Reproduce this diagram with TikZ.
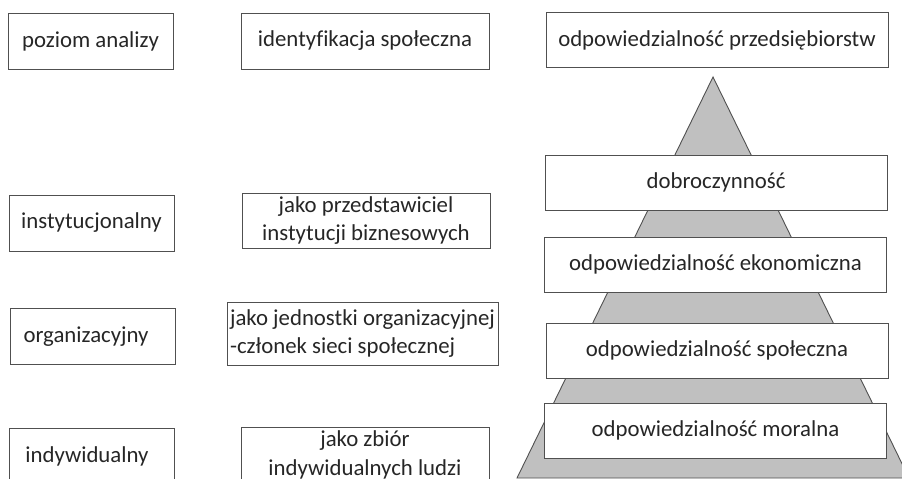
\documentclass[tikz,border=0pt]{standalone}
\usepackage{fontspec}
\setmainfont[Ligatures=NoCommon]{Carlito}
\definecolor{edge}{HTML}{505050}
\definecolor{ink}{HTML}{262626}
\definecolor{pyr}{HTML}{C0C0C0}
\begin{document}
\begin{tikzpicture}[x=1pt,y=-1pt,
  box/.style={draw=edge,line width=0.9pt,fill=white,inner sep=0pt,text=ink,
    font=\fontsize{22.8}{28.5}\selectfont,align=center},
  w165/.style={minimum width=165pt,minimum height=56pt},
  w248/.style={minimum width=248pt,minimum height=56pt},
  w342/.style={minimum width=342pt,minimum height=55pt}]
\clip (0,0) rectangle (902,479);
\fill[white] (0,0) rectangle (902,479);
% pyramid
\draw[draw=edge,line width=0.9pt,fill=pyr] (713,77) -- (909,478) -- (517,478) -- cycle;
% header row
\node[box,w165] (poziom) at (90.5,41) {poziom analizy};
\node[box,w248] (ident) at (365,41) {identyfikacja społeczna};
\node[box,w342] (przed) at (717,40) {odpowiedzialność przedsiębiorstw};
% pyramid levels
\node[box,w342] (dobro) at (716,182.5) {dobroczynność};
\node[box,w342] (ekon) at (715.5,264.5) {odpowiedzialność ekonomiczna};
\node[box,w342] (spol) at (717,350.5) {odpowiedzialność społeczna};
\node[box,w342] (moral) at (715.5,430.5) {odpowiedzialność moralna};
% left column
\node[box,w165] (inst) at (91.5,223) {instytucjonalny};
\node[box,w165] (org) at (92.5,336.5) {\hspace*{-13pt}organizacyjny};
\node[box,w165] (indyw) at (91.5,456) {\hspace*{-9pt}indywidualny};
% middle column
\node[box,w248,minimum height=55pt] (przedst) at (366,220.5) {jako przedstawiciel\\instytucji biznesowych};
\node[box,minimum width=271pt,minimum height=63pt,align=left] (jedn) at (362.5,333.5) {jako jednostki organizacyjnej\\-członek sieci społecznej};
\node[box,w248] (zbior) at (365,455) {jako zbiór\\indywidualnych ludzi};
\end{tikzpicture}
\end{document}
